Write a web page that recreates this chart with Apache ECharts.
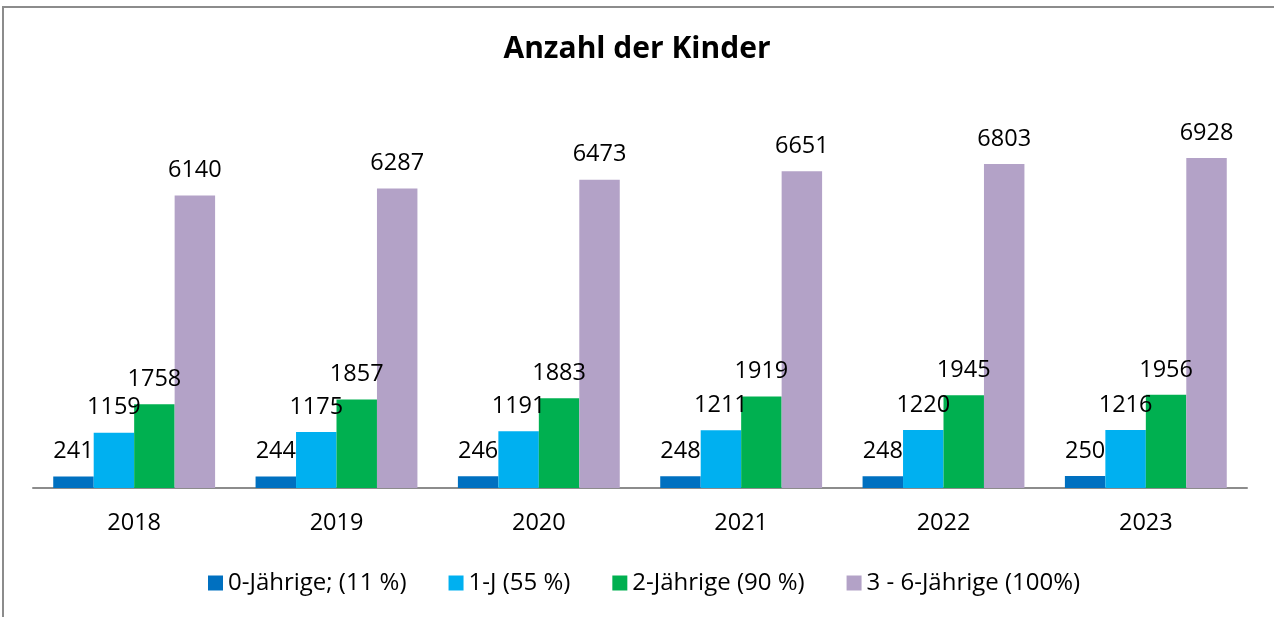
<!DOCTYPE html>
<html>
<head>
<meta charset="utf-8">
<title>Anzahl der Kinder</title>
<script src="https://cdn.jsdelivr.net/npm/echarts@6/dist/echarts.min.js"></script>
<style>
  html, body { margin: 0; padding: 0; background: #fff; }
  #frame {
    position: absolute; left: 2px; top: 6px; width: 1272px; height: 611px;
    border-top: 2px solid #8c8c8c; border-left: 2px solid #8c8c8c;
  }
  #chart { position: absolute; left: 0; top: 0; width: 1274px; height: 617px; }
</style>
</head>
<body>
<div id="frame"></div>
<div id="chart"></div>
<script>
// data
const years = ['2018', '2019', '2020', '2021', '2022', '2023']
const seriesNames = ['0-Jährige; (11 %)', '1-J (55 %)', '2-Jährige (90 %)', '3 - 6-Jährige (100%)']
const age0 = [241, 244, 246, 248, 248, 250]
const age1 = [1159, 1175, 1191, 1211, 1220, 1216]
const age2 = [1758, 1857, 1883, 1919, 1945, 1956]
const age3to6 = [6140, 6287, 6473, 6651, 6803, 6928]
const colors = ['#0070c0', '#00b0f0', '#00b050', '#b3a2c7']

const font = 'Open Sans'
const values = [age0, age1, age2, age3to6]

let series = values.map(function (data, i) {
  return {
    name: seriesNames[i],
    type: 'bar',
    data: data,
    barGap: '0%',
    barCategoryGap: '20%',
    itemStyle: { color: colors[i] },
    label: {
      show: true,
      position: 'top',
      distance: 13,
      color: '#000',
      fontFamily: font,
      fontSize: 23.5
    }
  }
})

let myChart = echarts.init(document.getElementById('chart'))
myChart.setOption({
  animation: false,
  title: {
    text: 'Anzahl der Kinder',
    left: 'center',
    top: 29,
    textStyle: { fontFamily: font, fontSize: 30, fontWeight: 'bold', color: '#000' }
  },
  legend: {
    data: seriesNames,
    left: 203,
    top: 566,
    itemWidth: 15,
    itemHeight: 15,
    itemGap: 42,
    icon: 'rect',
    textStyle: { fontFamily: font, fontSize: 24, color: '#000' }
  },
  grid: {
    left: 33,
    right: 27,
    top: 107,
    bottom: 129,
    containLabel: false
  },
  xAxis: {
    type: 'category',
    data: years,
    axisLine: { lineStyle: { color: '#8c8c8c', width: 2 } },
    axisTick: { show: false },
    axisLabel: { margin: 23, fontFamily: font, fontSize: 23.5, color: '#000' }
  },
  yAxis: {
    type: 'value',
    min: 0,
    max: 8000,
    interval: 1000,
    show: false,
    splitLine: { show: false }
  },
  series: series
})
window.addEventListener('resize', function () {
  myChart.resize()
})
</script>
</body>
</html>
